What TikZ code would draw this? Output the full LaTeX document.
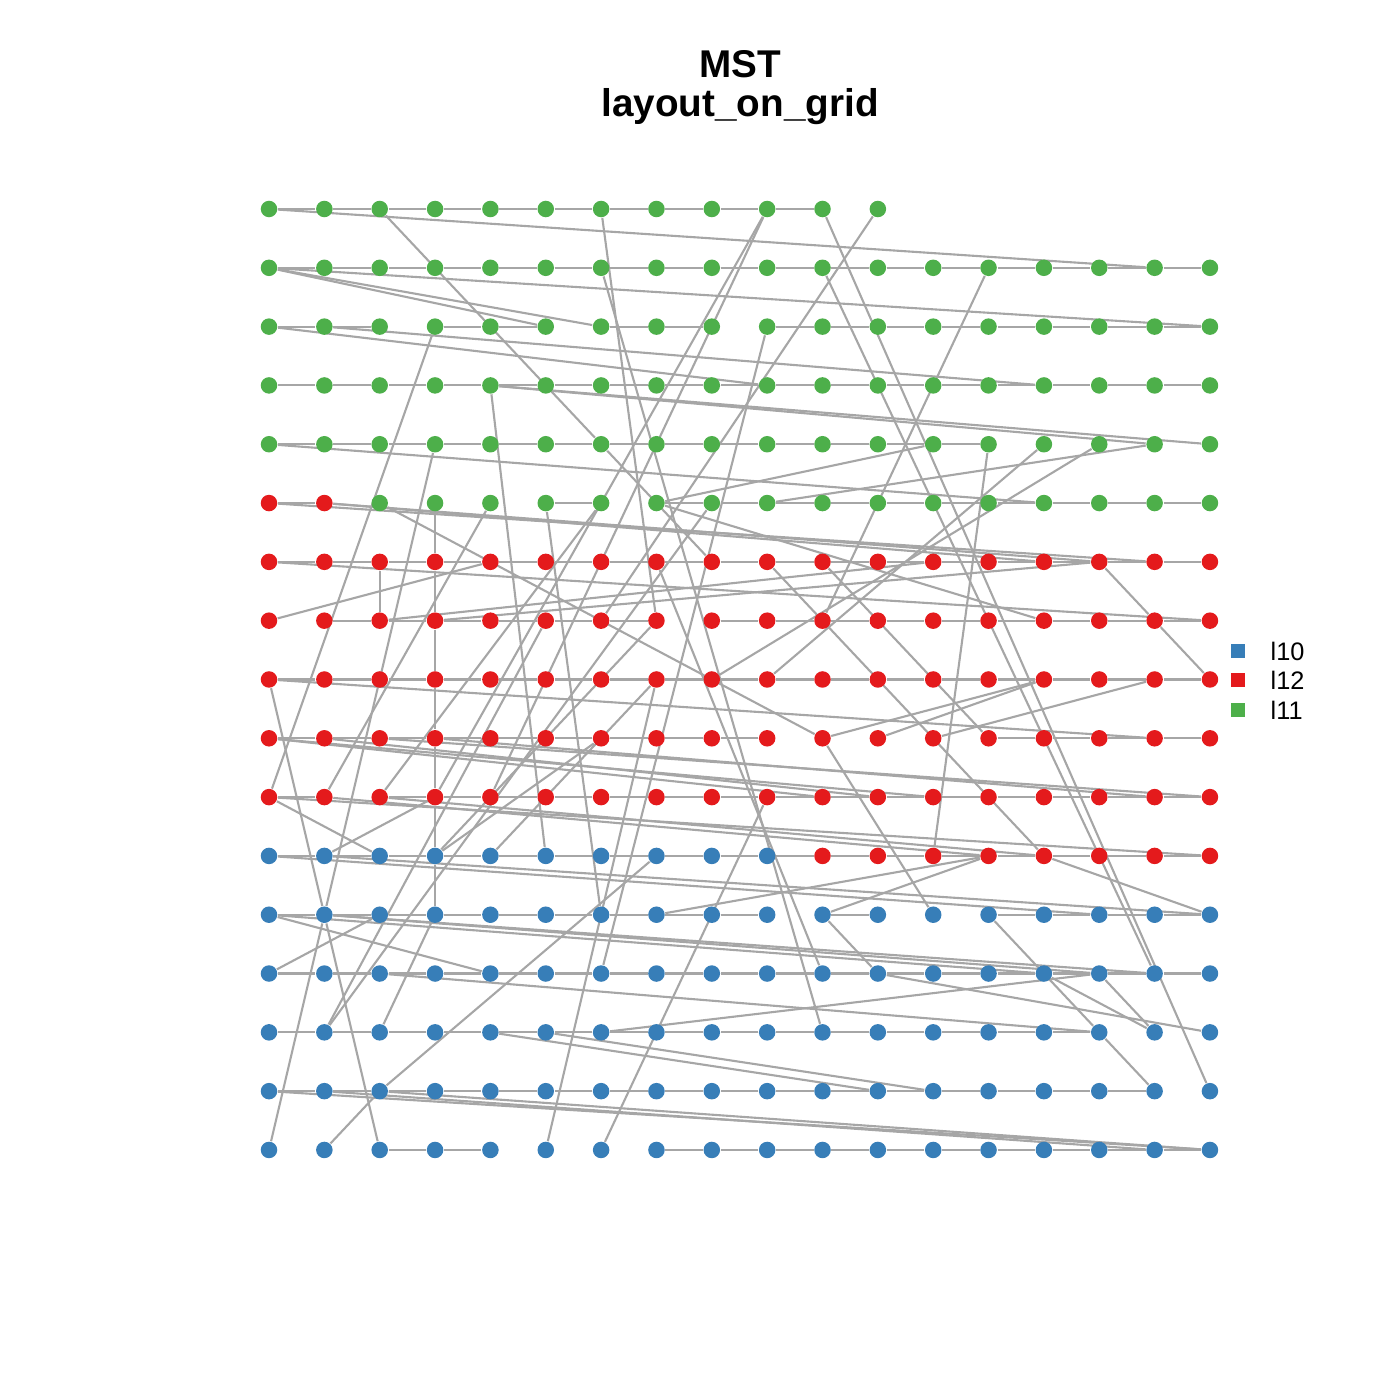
\documentclass[tikz,border=0pt]{standalone}
\usepackage{fontspec}
\setmainfont{Liberation Sans}
\definecolor{cblue}{HTML}{377EB8}
\definecolor{cred}{HTML}{E41A1C}
\definecolor{cgreen}{HTML}{4DAF4A}
\definecolor{cedge}{HTML}{A6A6A6}
\pgfdeclarelayer{bg}
\pgfsetlayers{bg,main}
\tikzset{
  vtx/.style={circle, inner sep=0pt, minimum size=0.165cm, draw=none},
  mstedge/.style={draw=cedge, line width=0.6pt},
  lsq/.style={rectangle, inner sep=0pt, minimum size=0.14cm, draw=none},
  ltxt/.style={anchor=west, inner sep=0pt, font=\fontsize{7.2}{8}\selectfont},
  ttl/.style={inner sep=0pt, font=\bfseries\fontsize{11}{13}\selectfont}
}
\begin{document}
\begin{tikzpicture}[x=0.01cm,y=-0.01cm]
\useasboundingbox (0,0) rectangle (1400,1400);
\node[ttl] (t1) at (740,64) {MST};
\node[ttl] (t2) at (740,107) {layout\_on\_grid};
% vertices
\foreach \r in {0,...,16}{
  \foreach \c in {0,...,17}{
    \pgfmathtruncatemacro\idx{(16-\r)*18+\c}
    \ifnum\idx<300
      \ifnum\idx<100 \def\col{cblue}\else\ifnum\idx<200 \def\col{cred}\else\def\col{cgreen}\fi\fi
      \node[vtx, fill=\col] (n\r-\c) at ({269+55.35*\c},{209+58.81*\r}) {};
    \fi
  }
}
\begin{pgfonlayer}{bg}
% horizontal chains
\foreach \r/\s/\e in {0/0/10, 1/0/17, 2/0/2, 2/3/5, 2/6/8, 2/9/17, 3/0/17, 4/0/13,
  5/0/1, 5/5/6, 5/7/17, 6/0/17, 7/1/7, 7/8/17, 8/0/17, 9/0/9, 9/13/17,
  10/0/1, 10/2/17, 11/0/17, 12/0/9, 12/10/11, 12/13/17, 13/0/17, 14/0/15,
  15/0/16, 16/2/4, 16/7/17}{
  \pgfmathtruncatemacro\ee{\e-1}
  \foreach \c in {\s,...,\ee}{
    \pgfmathtruncatemacro\d{\c+1}
    \draw[mstedge] (n\r-\c) -- (n\r-\d);
  }
}
% vertical chain in column 3
\foreach \r in {5,...,11}{
  \pgfmathtruncatemacro\s{\r+1}
  \draw[mstedge] (n\r-3) -- (n\s-3);
}
% other edges
\foreach \a/\b in {0-0/1-16, 0-2/4-6, 4-6/6-8, 0-6/7-7, 0-9/10-3, 0-9/10-4, 0-10/15-17,
  0-11/7-6, 1-0/2-17, 1-0/2-6, 1-0/2-5, 1-6/14-10, 1-10/13-16, 1-13/7-10,
  2-0/3-9, 2-1/3-14, 2-3/10-0, 2-9/13-6, 3-4/4-16, 3-4/4-17, 3-4/11-5,
  4-3/12-1, 12-1/16-0, 4-0/5-14, 4-16/5-9, 4-12/5-7, 4-14/8-9, 4-15/8-8,
  4-13/11-12, 5-0/6-16, 5-1/6-15, 5-1/6-14, 5-2/9-10, 5-4/10-1, 5-5/12-6,
  5-6/10-2, 6-0/7-17, 7-0/6-4, 7-2/6-12, 7-3/6-15, 8-0/12-1, 12-1/16-2,
  8-0/9-16, 9-0/10-12, 9-0/10-10, 9-1/10-11, 10-0/11-2, 10-0/11-17,
  10-1/11-13, 10-2/11-14, 11-1/10-3, 11-0/12-15, 11-1/12-17, 12-0/13-4,
  12-0/13-14, 12-1/13-15, 12-1/13-16, 13-0/12-2, 13-2/14-15, 15-0/16-17,
  15-1/16-16, 15-2/16-17, 14-5/15-12, 14-4/15-11, 14-6/13-15, 12-7/11-13,
  12-10/11-13, 12-10/13-11, 6-7/13-10, 12-13/14-15, 13-15/14-16, 13-14/14-16,
  14-15/15-16, 11-14/12-17, 13-11/14-17, 16-1/15-2, 15-2/11-7, 16-5/8-7,
  16-6/10-9, 14-1/7-5, 14-1/5-8, 14-2/12-3, 9-10/8-14, 9-11/8-14, 9-12/8-16,
  9-3/10-16, 9-2/10-17, 6-9/11-14, 6-10/9-13, 6-15/7-16, 7-16/8-17, 5-7/7-14,
  6-2/7-2, 11-3/9-6, 11-3/7-7, 11-4/8-7, 9-10/12-12}{
  \draw[mstedge] (n\a) -- (n\b);
}
\end{pgfonlayer}
% legend
\node[lsq, fill=cblue]  (k1) at (1238,651) {};
\node[lsq, fill=cred]   (k2) at (1238,680) {};
\node[lsq, fill=cgreen] (k3) at (1238,710) {};
\node[ltxt] (k1t) at (1270,651) {l10};
\node[ltxt] (k2t) at (1270,680) {l12};
\node[ltxt] (k3t) at (1270,710) {l11};
\end{tikzpicture}
\end{document}
